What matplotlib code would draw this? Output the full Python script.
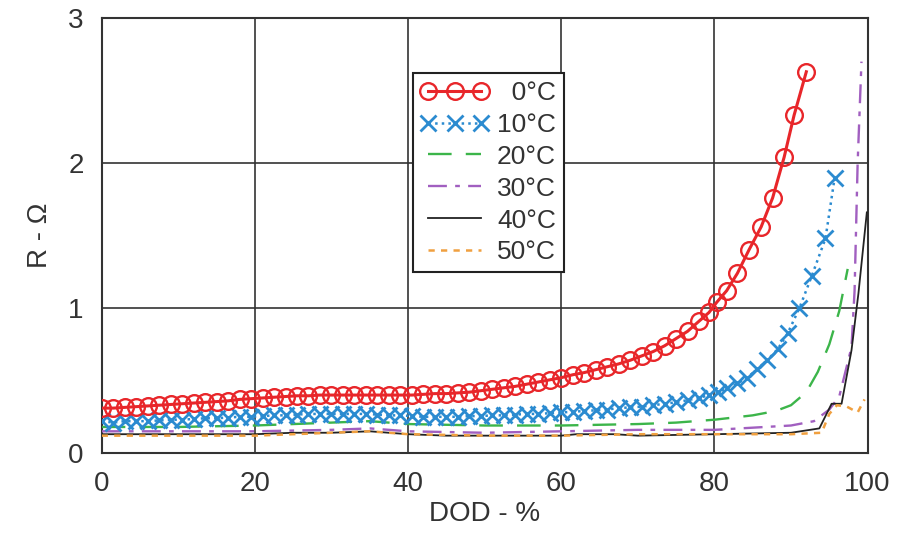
import matplotlib
matplotlib.use("Agg")
import matplotlib.pyplot as plt

plt.rcParams["font.family"] = ["Liberation Sans", "DejaVu Sans"]

# DOD (%) and resistance (ohm)
dod_0c = [0, 1.5, 3, 4.5, 6, 7.5, 9, 10.5, 12, 13.5, 15, 16.5, 18, 19.5, 21, 22.5, 24, 25.5,
          27, 28.5, 30, 31.5, 33, 34.5, 36, 37.5, 39, 40.5, 42, 43.5, 45, 46.5, 48, 49.5,
          51, 52.5, 54, 55.5, 57, 58.5, 60, 61.5, 63, 64.5, 66, 67.5, 69, 70.5, 72, 73.5,
          75, 76.5, 78, 79.3, 80.3, 81.6, 83.0, 84.5, 86.1, 87.6, 89.1, 90.4, 92.0]
r_0c = [0.31, 0.31, 0.315, 0.32, 0.325, 0.33, 0.335, 0.34, 0.345, 0.35, 0.355, 0.36, 0.37,
        0.375, 0.38, 0.385, 0.39, 0.395, 0.395, 0.40, 0.40, 0.40, 0.40, 0.40, 0.40, 0.40,
        0.40, 0.40, 0.405, 0.41, 0.41, 0.415, 0.42, 0.43, 0.44, 0.45, 0.46, 0.475, 0.49,
        0.505, 0.52, 0.54, 0.555, 0.575, 0.595, 0.615, 0.64, 0.67, 0.70, 0.74, 0.79, 0.84,
        0.91, 0.97, 1.04, 1.12, 1.24, 1.40, 1.56, 1.76, 2.04, 2.33, 2.63]

dod_10c = [0, 1.5, 3, 4.5, 6, 7.5, 9, 10.5, 12, 13.5, 15, 16.5, 18, 19.5, 21, 22.5, 24, 25.5,
           27, 28.5, 30, 31.5, 33, 34.5, 36, 37.5, 39, 40.5, 42, 43.5, 45, 46.5, 48, 49.5,
           51, 52.5, 54, 55.5, 57, 58.5, 60, 61.5, 63, 64.5, 66, 67.5, 69, 70.5, 72, 73.5,
           75, 76.5, 78, 79.3, 80.5, 81.7, 83.0, 84.3, 85.6, 86.9, 88.3, 89.6, 91.1, 92.7,
           94.5, 95.7]
r_10c = [0.22, 0.21, 0.22, 0.22, 0.22, 0.225, 0.23, 0.23, 0.235, 0.24, 0.24, 0.245, 0.25,
         0.25, 0.255, 0.26, 0.26, 0.265, 0.27, 0.27, 0.27, 0.27, 0.27, 0.27, 0.265, 0.26,
         0.26, 0.255, 0.25, 0.25, 0.25, 0.25, 0.255, 0.255, 0.26, 0.26, 0.265, 0.27, 0.27,
         0.275, 0.28, 0.285, 0.29, 0.295, 0.30, 0.31, 0.315, 0.32, 0.33, 0.34, 0.35, 0.365,
         0.38, 0.40, 0.42, 0.45, 0.48, 0.52, 0.58, 0.64, 0.72, 0.83, 1.00, 1.22, 1.48, 1.90]

dod_20c = [0, 10, 20, 30, 35, 40, 50, 60, 70, 75, 80, 85, 88, 90, 92, 93.5, 95, 96.3, 97.4]
r_20c = [0.18, 0.18, 0.19, 0.21, 0.22, 0.20, 0.19, 0.19, 0.20, 0.21, 0.23, 0.26, 0.29,
         0.33, 0.42, 0.56, 0.75, 0.98, 1.27]

dod_30c = [0, 10, 20, 30, 35, 40, 50, 60, 70, 80, 90, 93, 95, 96.3, 97.9, 98.3, 98.7, 99.2]
r_30c = [0.15, 0.15, 0.15, 0.16, 0.17, 0.15, 0.14, 0.15, 0.16, 0.16, 0.19, 0.22, 0.30,
         0.39, 0.73, 1.12, 2.00, 2.70]

dod_40c = [0, 10, 20, 25, 30, 35, 40, 45, 50, 60, 62, 67, 70, 80, 90, 93.7, 95.3, 96.6,
           97.9, 98.8, 99.9]
r_40c = [0.13, 0.13, 0.13, 0.14, 0.14, 0.15, 0.13, 0.12, 0.12, 0.12, 0.13, 0.13, 0.12,
         0.13, 0.14, 0.17, 0.34, 0.34, 0.71, 1.10, 1.66]

dod_50c = [0, 10, 20, 25, 30, 35, 40, 50, 60, 70, 80, 90, 94, 95, 96, 97.3, 98.7, 99.6]
r_50c = [0.12, 0.12, 0.12, 0.13, 0.14, 0.15, 0.13, 0.12, 0.12, 0.13, 0.13, 0.13, 0.14,
         0.27, 0.33, 0.32, 0.28, 0.37]

fig = plt.figure(figsize=(9, 5.33), dpi=100)
ax = fig.add_axes([0.113, 0.150, 0.851, 0.816])

ax.plot(dod_0c, r_0c, color="#e8262a", lw=2.2, marker="o", ms=12, mfc="none",
        mew=1.7, label="\u20070°C", zorder=6)
ax.plot(dod_10c, r_10c, color="#2b8bd0", lw=1.8, ls=":", marker="x", ms=12, mew=2.0,
        label="10°C", zorder=5)
ax.plot(dod_20c, r_20c, color="#3cb54a", lw=1.7, ls=(0, (10, 6)), label="20°C", zorder=4)
ax.plot(dod_30c, r_30c, color="#a15fc0", lw=1.7, ls=(0, (8, 3.5, 2, 3.5)), label="30°C",
        zorder=4)
ax.plot(dod_40c, r_40c, color="#222222", lw=1.3, label="40°C", zorder=4)
ax.plot(dod_50c, r_50c, color="#f0a040", lw=1.8, ls=(0, (2.5, 2.5)), label="50°C", zorder=4)

ax.set_xlim(0, 100)
ax.set_ylim(0, 3)
ax.set_xticks([0, 20, 40, 60, 80, 100])
ax.set_yticks([0, 1, 2, 3])
ax.grid(True, color="#333333", lw=1.2)
ax.set_axisbelow(True)
for sp in ax.spines.values():
    sp.set_color("#333333")
    sp.set_linewidth(1.5)
ax.tick_params(length=0, labelsize=20, colors="#333333")
ax.tick_params(axis="x", pad=13)
ax.tick_params(axis="y", pad=13)
ax.set_xlabel("DOD - %", fontsize=20, color="#333333", labelpad=3)
ax.set_ylabel("R - Ω", fontsize=20, color="#333333", labelpad=11)

leg = ax.legend(loc="upper left", bbox_to_anchor=(0.406, 0.874), borderaxespad=0,
                fontsize=19, frameon=True, fancybox=False, framealpha=1,
                edgecolor="#222222", handlelength=2.6, labelspacing=0.3,
                handletextpad=0.3, borderpad=0.3, numpoints=3)
leg.get_frame().set_linewidth(1.5)
for t in leg.get_texts():
    t.set_color("#333333")

fig.savefig("out.png", dpi=100)
